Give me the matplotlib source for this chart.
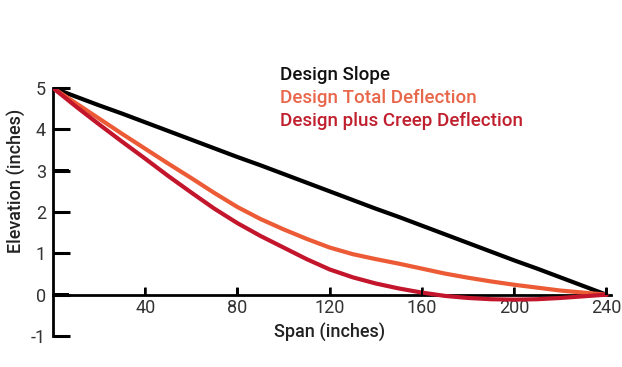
import numpy as np
import matplotlib.pyplot as plt
from matplotlib.patches import Rectangle

# span positions (inches)
span = [0, 10, 20, 30, 40, 50, 60, 70, 80, 90, 100, 110, 120,
        130, 140, 150, 160, 170, 180, 190, 200, 210, 220, 230, 240]

# elevation values
design_slope = [5, 4.79, 4.58, 4.38, 4.17, 3.96, 3.75, 3.54, 3.33, 3.13, 2.92, 2.71, 2.5,
                2.29, 2.08, 1.88, 1.67, 1.46, 1.25, 1.04, 0.83, 0.63, 0.42, 0.21, 0]
total_defl = [5, 4.63, 4.26, 3.89, 3.53, 3.17, 2.82, 2.46, 2.12, 1.83, 1.58, 1.35, 1.14,
              0.98, 0.86, 0.75, 0.63, 0.51, 0.41, 0.32, 0.24, 0.17, 0.1, 0.05, 0]
creep_defl = [5, 4.55, 4.12, 3.7, 3.29, 2.87, 2.47, 2.08, 1.73, 1.42, 1.14, 0.86, 0.61,
              0.42, 0.27, 0.15, 0.05, -0.03, -0.08, -0.11, -0.12, -0.11, -0.08, -0.04, 0]

xticks = [40, 80, 120, 160, 200, 240]
yticks = [-1, 0, 1, 2, 3, 4, 5]

black = "#000000"
orange = "#EC5B35"
red = "#C3152B"

plt.rcParams['font.family'] = ['Roboto', 'DejaVu Sans']
plt.rcParams['axes.unicode_minus'] = False

fig = plt.figure(figsize=(6.22, 3.67), dpi=100)
ax = fig.add_axes([53 / 622, 31 / 367, (611 - 53) / 622, (336 - 88) / 367])

ax.plot(span, design_slope, color=black, lw=3, solid_capstyle="round", zorder=3)
ax.plot(span, total_defl, color=orange, lw=3, solid_capstyle="round", zorder=3)
ax.plot(span, creep_defl, color=red, lw=3, solid_capstyle="round", zorder=4)

ax.set_xlim(0, 242)
ax.set_ylim(-1, 5)

ax.spines['top'].set_visible(False)
ax.spines['right'].set_visible(False)
ax.spines['bottom'].set_position(('data', 0))
ax.spines['left'].set_linewidth(2)
ax.spines['bottom'].set_linewidth(2)

ax.set_xticks(xticks)
ax.set_yticks(yticks)
ax.tick_params(axis='y', direction='in', length=12, width=2.2, color='black',
               labelsize=13, pad=5, labelcolor='#333333')
ax.tick_params(axis='x', direction='in', length=6, width=1.8, color='black',
               labelsize=13, pad=3, labelcolor='#333333')

# inward tick marks as small filled bars
ytr = ax.get_yaxis_transform()
for yv in yticks:
    ax.add_patch(Rectangle((0, yv - 0.03), 0.028, 0.06, transform=ytr,
                           facecolor='black', edgecolor='none',
                           clip_on=False, zorder=6))
for xv in xticks:
    ax.add_patch(Rectangle((xv - 0.5, 0), 1.0, 0.15,
                           facecolor='black', edgecolor='none',
                           clip_on=False, zorder=6))

fig.text(17 / 622, 1 - 181 / 367, "Elevation (inches)", rotation=90,
         ha='center', va='center', fontsize=13, fontweight='medium', color='#222222')
fig.text(330 / 622, 1 - 338 / 367, "Span (inches)",
         ha='center', va='baseline', fontsize=13, fontweight='medium', color='#222222')

# legend as coloured text
labels = ["Design Slope", "Design Total Deflection", "Design plus Creep Deflection"]
colors = ["#111111", "#E8664A", "#C0202E"]
for i, (lab, col) in enumerate(zip(labels, colors)):
    fig.text(280 / 622, 1 - (75 + 23 * i) / 367, lab, ha='left', va='center',
             fontsize=13.5, fontweight='medium', color=col)

fig.savefig("out.png", dpi=100)
